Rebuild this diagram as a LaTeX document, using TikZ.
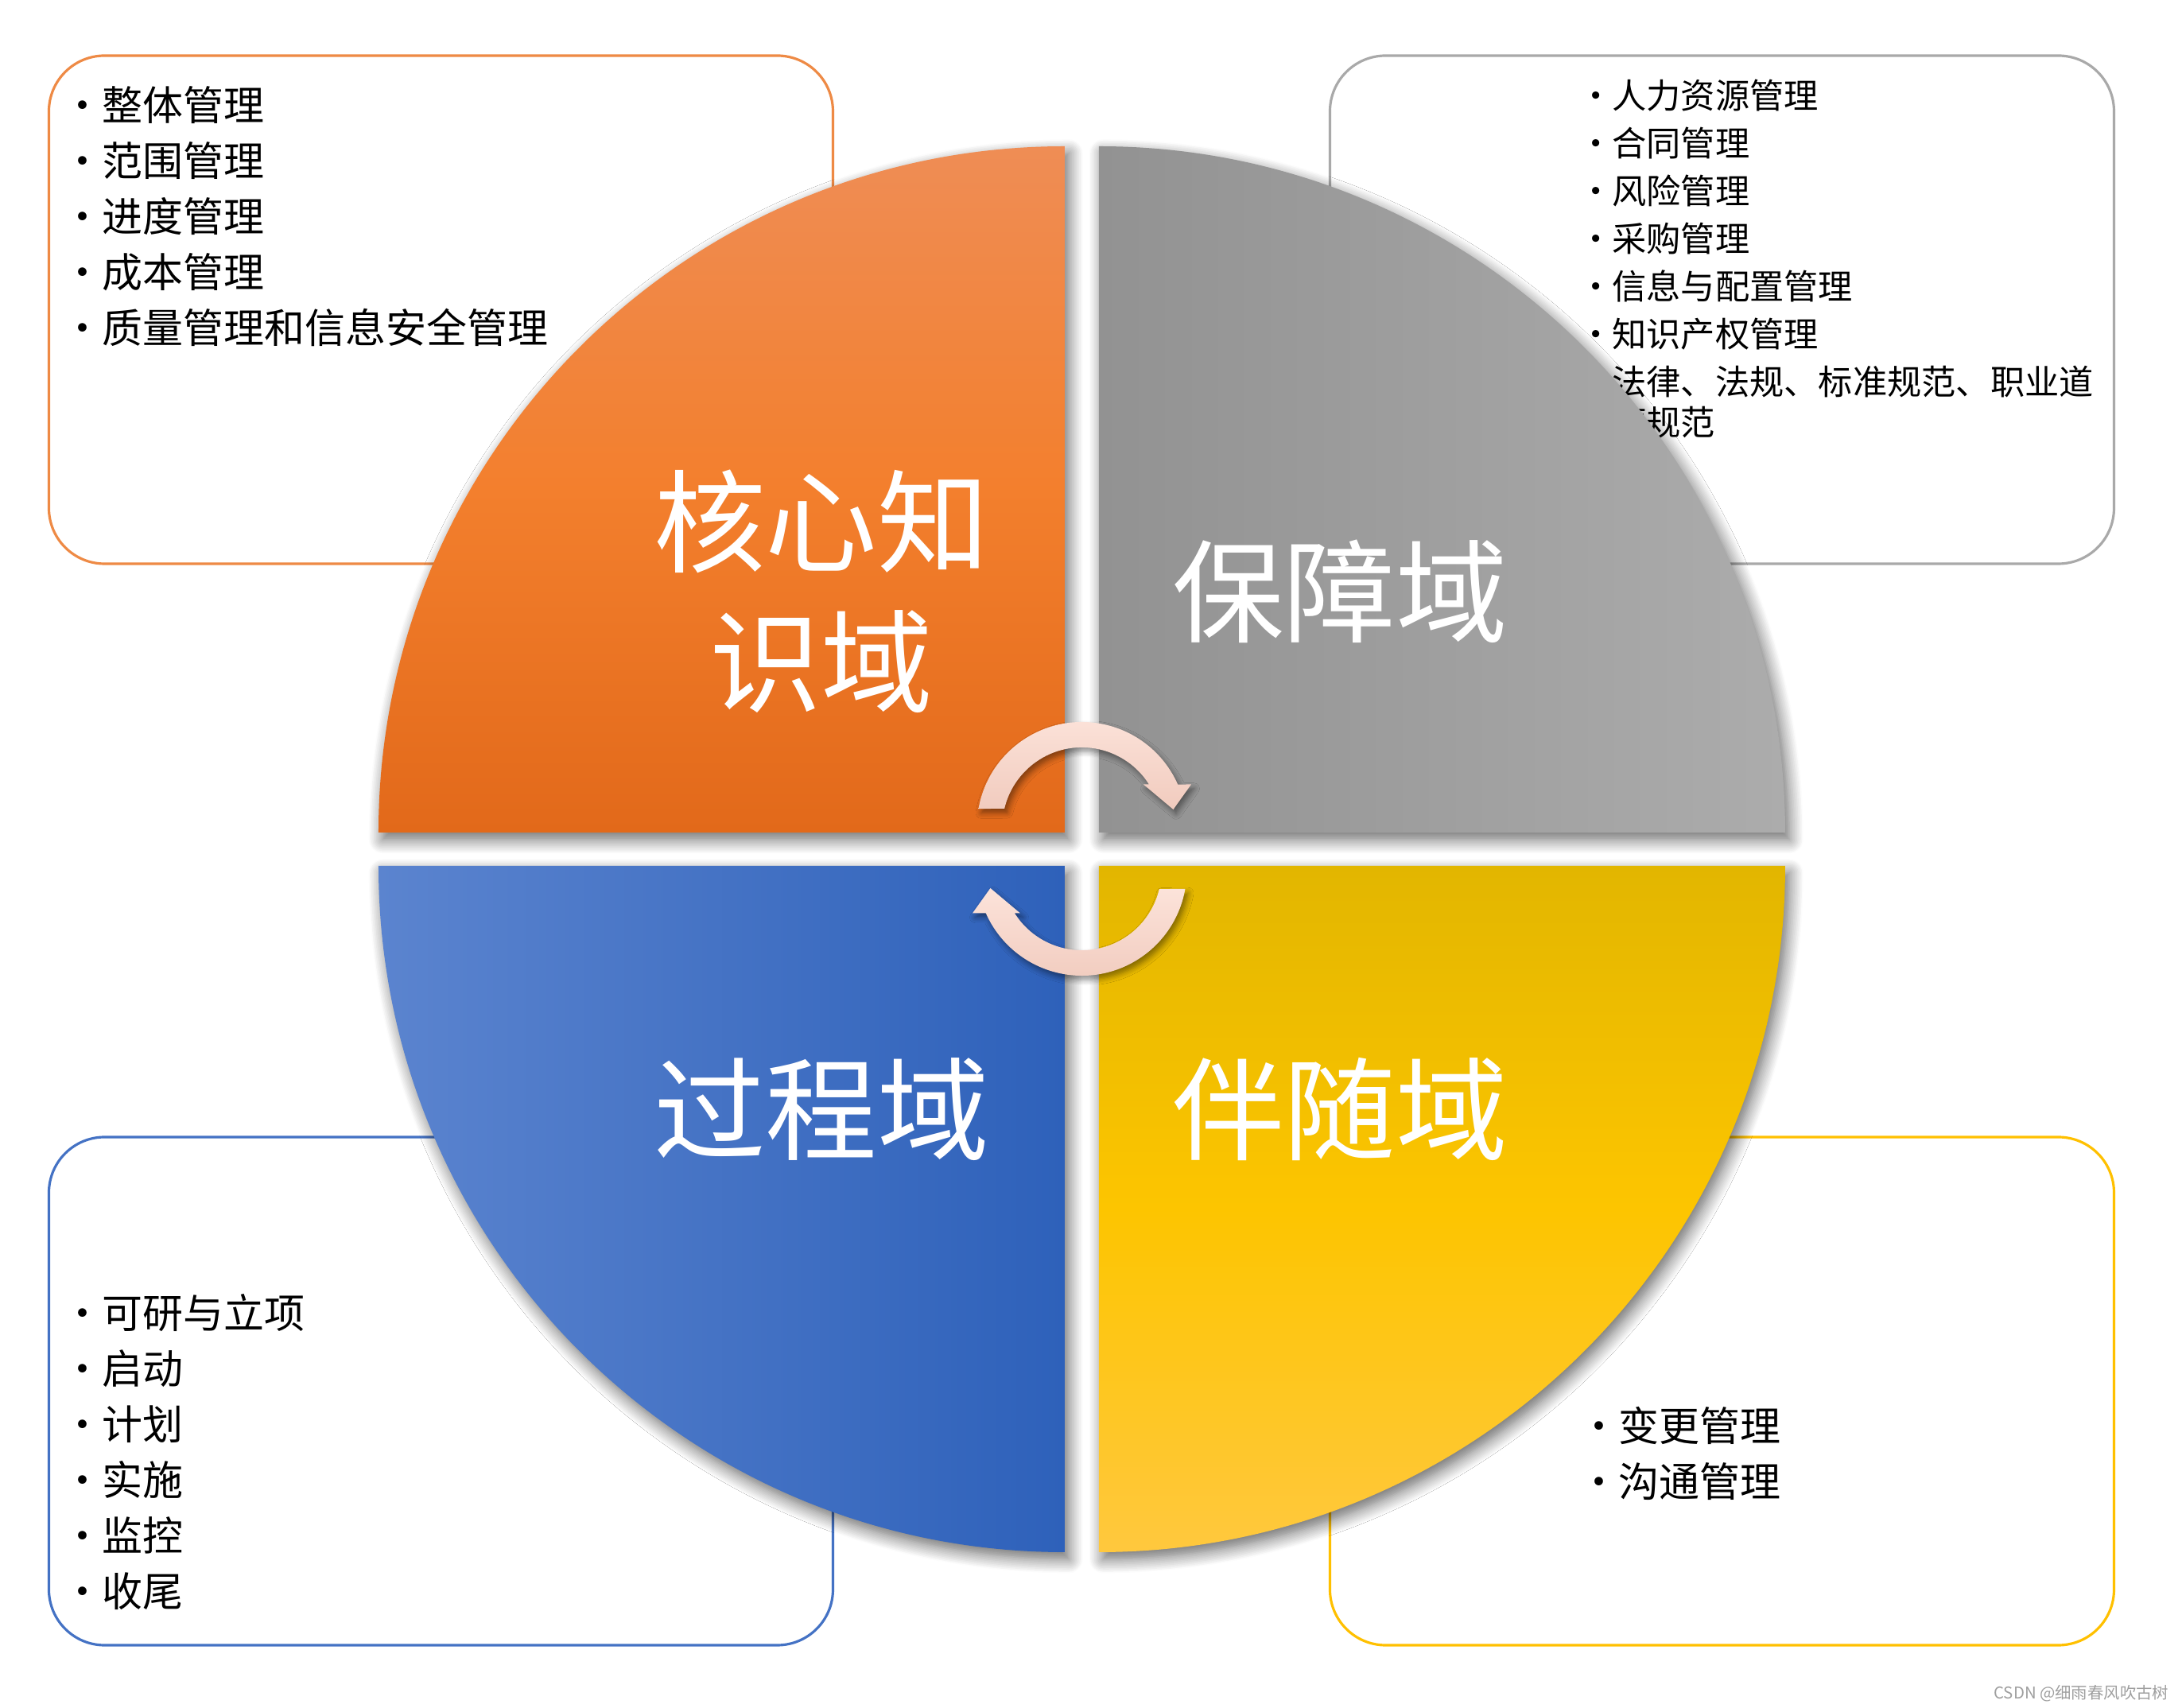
\documentclass[tikz,border=0pt]{standalone}
\usepackage{fontspec}
\setmainfont{Noto Sans CJK SC}
\usepackage{tikz}
\usetikzlibrary{positioning, shadows.blur}

\definecolor{orgtop}{HTML}{EF8D55}
\definecolor{orgmid}{HTML}{F37F2D}
\definecolor{orgbot}{HTML}{E2691A}
\definecolor{gryleft}{HTML}{929292}
\definecolor{gryright}{HTML}{ACACAC}
\definecolor{bluleft}{HTML}{5B84CF}
\definecolor{bluright}{HTML}{2E61BA}
\definecolor{ylwtop}{HTML}{E2B600}
\definecolor{ylwmid}{HTML}{FDC500}
\definecolor{ylwbot}{HTML}{FFC83E}
\definecolor{orgline}{HTML}{EE8A45}
\definecolor{gryline}{HTML}{A9A9A9}
\definecolor{bluline}{HTML}{4472C4}
\definecolor{ylwline}{HTML}{FFC000}
\definecolor{arrtop}{HTML}{FCE3DA}
\definecolor{arrbot}{HTML}{F1CBBE}

\newcommand{\itm}{\makebox[0.55em][l]{\hspace*{-0.43em}•}}

\begin{document}
\begin{tikzpicture}[
    panel/.style={rectangle, rounded corners=0.7cm, line width=0.9pt, fill=white,
                  minimum width=9.86cm, minimum height=6.39cm},
    listtxt/.style={anchor=base west, inner sep=0pt, font=\fontsize{14.5}{17}\selectfont},
    smalltxt/.style={anchor=base west, inner sep=0pt, font=\fontsize{12.3}{14.5}\selectfont},
    quadtitle/.style={text=white, align=center, inner sep=0pt, font=\fontsize{40}{50}\selectfont},
    quad/.style={blur shadow={shadow xshift=1.5pt, shadow yshift=-2.5pt, shadow blur radius=5pt,
                 shadow blur steps=12, shadow opacity=60}},
    cyc/.style={top color=arrtop, bottom color=arrbot,
                blur shadow={shadow xshift=1pt, shadow yshift=-1.5pt, shadow blur radius=2pt,
                shadow blur steps=6, shadow opacity=45}}
]

\useasboundingbox (-13.605,-10.80) rectangle (13.835,10.68);

%% ===== LIST PANELS (behind the quarters) =====
\node[panel, draw=orgline] (kpanel) at (-8.06,6.785)  {};
\node[panel, draw=gryline] (gpanel) at (8.05,6.785)   {};
\node[panel, draw=bluline] (ppanel) at (-8.06,-6.815) {};
\node[panel, draw=ylwline] (apanel) at (8.05,-6.815)  {};

%% core knowledge list
\node[listtxt] (k1) at (-12.605,9.16) {\itm 整体管理};
\node[listtxt] (k2) at ([yshift=-0.70cm]k1.base west) {\itm 范围管理};
\node[listtxt] (k3) at ([yshift=-0.70cm]k2.base west) {\itm 进度管理};
\node[listtxt] (k4) at ([yshift=-0.70cm]k3.base west) {\itm 成本管理};
\node[listtxt] (k5) at ([yshift=-0.70cm]k4.base west) {\itm 质量管理和信息安全管理};

%% support list
\node[smalltxt] (g1) at (6.425,9.31) {\itm 人力资源管理};
\node[smalltxt] (g2) at ([yshift=-0.60cm]g1.base west) {\itm 合同管理};
\node[smalltxt] (g3) at ([yshift=-0.60cm]g2.base west) {\itm 风险管理};
\node[smalltxt] (g4) at ([yshift=-0.60cm]g3.base west) {\itm 采购管理};
\node[smalltxt] (g5) at ([yshift=-0.60cm]g4.base west) {\itm 信息与配置管理};
\node[smalltxt] (g6) at ([yshift=-0.60cm]g5.base west) {\itm 知识产权管理};
\node[smalltxt] (g7) at ([yshift=-0.60cm]g6.base west) {\itm 法律、法规、标准规范、职业道};
\node[smalltxt] (g8) at ([yshift=-0.51cm]g7.base west) {\phantom{\itm}德规范};

%% process list
\node[listtxt] (p1) at (-12.605,-6.03) {\itm 可研与立项};
\node[listtxt] (p2) at ([yshift=-0.70cm]p1.base west) {\itm 启动};
\node[listtxt] (p3) at ([yshift=-0.70cm]p2.base west) {\itm 计划};
\node[listtxt] (p4) at ([yshift=-0.70cm]p3.base west) {\itm 实施};
\node[listtxt] (p5) at ([yshift=-0.70cm]p4.base west) {\itm 监控};
\node[listtxt] (p6) at ([yshift=-0.70cm]p5.base west) {\itm 收尾};

%% accompanying list
\node[listtxt] (a1) at (6.465,-7.45) {\itm 变更管理};
\node[listtxt] (a2) at ([yshift=-0.70cm]a1.base west) {\itm 沟通管理};

%% ===== FOUR QUARTERS =====
\path[quad, top color=orgtop, bottom color=orgbot, middle color=orgmid]
    (-0.215,0.21) -- ++(-8.63,0) arc[start angle=180, end angle=90, radius=8.63] -- cycle;
\path[quad, left color=gryleft, right color=gryright]
    (0.215,0.21) -- ++(0,8.63) arc[start angle=90, end angle=0, radius=8.63] -- cycle;
\path[quad, left color=bluleft, right color=bluright]
    (-0.215,-0.21) -- ++(0,-8.63) arc[start angle=270, end angle=180, radius=8.63] -- cycle;
\path[quad, top color=ylwtop, bottom color=ylwbot, middle color=ylwmid]
    (0.215,-0.21) -- ++(8.63,0) arc[start angle=0, end angle=-90, radius=8.63] -- cycle;

%% quarter titles
\node[quadtitle] (core)    at (-3.275,3.245)  {核心知\\识域};
\node[quadtitle] (support) at (3.245,3.24)    {保障域};
\node[quadtitle] (process) at (-3.275,-3.27)  {过程域};
\node[quadtitle] (accomp)  at (3.245,-3.27)   {伴随域};

%% ===== CYCLE ARROWS =====
\begin{scope}[shift={(0,0.28)}]
  \path[cyc] (170:1.32) arc[start angle=170, end angle=23.9, radius=1.32]
      -- (1.375,0.535) -- (1.15,0.22) -- (0.775,0.535) -- (0.845,0.535)
      arc[start angle=32.3, end angle=166.7, radius=1.0] -- cycle;
\end{scope}
\begin{scope}[shift={(0,-0.27)}]
  \path[cyc] (350:1.32) arc[start angle=350, end angle=203.9, radius=1.32]
      -- (-1.375,-0.535) -- (-1.15,-0.22) -- (-0.775,-0.535) -- (-0.845,-0.535)
      arc[start angle=212.3, end angle=346.7, radius=1.0] -- cycle;
\end{scope}

%% watermark
\node[anchor=east, inner sep=0pt, text=gray!75, font=\fontsize{5.8}{7}\selectfont]
    (mark) at (13.675,-10.62) {CSDN @细雨春风吹古树};

\end{tikzpicture}
\end{document}
